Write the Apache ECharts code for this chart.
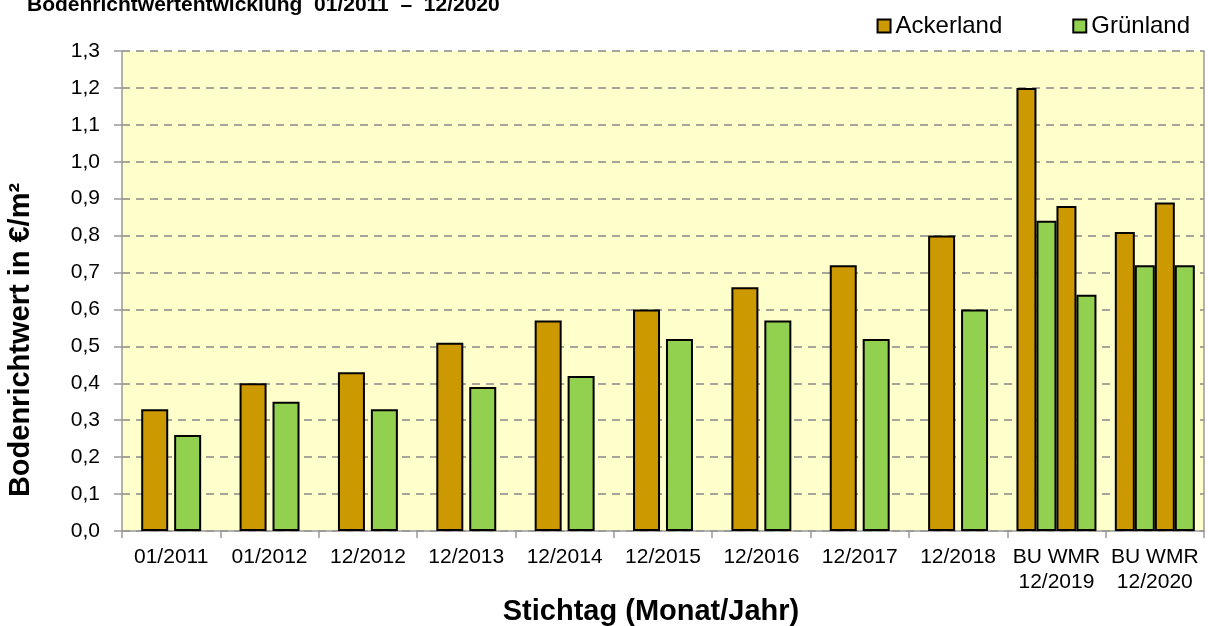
<!DOCTYPE html>
<html>
<head>
<meta charset="utf-8">
<script src="https://cdn.jsdelivr.net/npm/echarts@6/dist/echarts.min.js"></script>
<style>
  html, body { margin: 0; padding: 0; background: #fff; }
  #chart { width: 1208px; height: 626px; }
</style>
</head>
<body>
<div id="chart"></div>
<script>
// Stichtage (x-axis categories)
const categories = ['01/2011', '01/2012', '12/2012', '12/2013', '12/2014', '12/2015',
    '12/2016', '12/2017', '12/2018', 'BU WMR\n12/2019', 'BU WMR\n12/2020']

// regular Stichtage (first 9 categories)
const ackerland = [0.33, 0.40, 0.43, 0.51, 0.57, 0.60, 0.66, 0.72, 0.80]
const gruenland = [0.26, 0.35, 0.33, 0.39, 0.42, 0.52, 0.57, 0.52, 0.60]

// split by region for 12/2019 and 12/2020
const buAckerland = [1.20, 0.81]
const buGruenland = [0.84, 0.72]
const wmrAckerland = [0.88, 0.89]
const wmrGruenland = [0.64, 0.72]

const yTicks = { min: 0, max: 1.3, interval: 0.1 }

const colorAcker = '#CC9900'
const colorGruen = '#92D050'
const font = 'Arial, "Liberation Sans", sans-serif'

const nRegular = ackerland.length
const nSplit = categories.length - nRegular
const padEnd = arr => arr.concat(new Array(nSplit).fill(null))
const padStart = arr => new Array(nRegular).fill(null).concat(arr)

const border = { borderColor: '#000', borderWidth: 2 }
const axisTitle = { fontFamily: font, fontSize: 29, fontWeight: 'bold', fill: '#000' }

const chart = echarts.init(document.getElementById('chart'))

const option = {
    animation: false,
    title: {
        text: 'Bodenrichtwertentwicklung  01/2011  –  12/2020',
        left: 22,
        top: -10,
        textStyle: { fontFamily: font, fontSize: 21, fontWeight: 'bold', color: '#000' }
    },
    legend: {
        right: 13,
        top: 9,
        itemWidth: 13,
        itemHeight: 13,
        itemGap: 70,
        icon: 'rect',
        data: ['Ackerland', 'Grünland'],
        textStyle: { fontFamily: font, fontSize: 24, color: '#000' }
    },
    graphic: [
        {
            type: 'text',
            x: 21,
            y: 340,
            rotation: Math.PI / 2,
            style: { text: 'Bodenrichtwert in €/m²', align: 'center', verticalAlign: 'middle', ...axisTitle }
        },
        {
            type: 'text',
            x: 651,
            y: 612,
            style: { text: 'Stichtag (Monat/Jahr)', align: 'center', verticalAlign: 'middle', ...axisTitle }
        }
    ],
    grid: {
        left: 122,
        right: 4,
        top: 51,
        bottom: 95,
        show: true,
        backgroundColor: '#FFFFCC',
        borderWidth: 0
    },
    xAxis: [
        {
            type: 'category',
            data: categories,
            axisLine: { lineStyle: { color: '#999', width: 1.5 } },
            axisTick: { show: true, length: 7, lineStyle: { color: '#999', width: 1.5 } },
            axisLabel: {
                fontFamily: font, fontSize: 21, color: '#000', margin: 14,
                interval: 0, lineHeight: 25
            }
        },
        {
            type: 'category',
            data: categories,
            show: false
        }
    ],
    yAxis: [
        {
            type: 'value',
            min: yTicks.min,
            max: yTicks.max,
            interval: yTicks.interval,
            axisLine: { show: true, lineStyle: { color: '#999', width: 1.5 } },
            axisTick: { show: true, length: 8, lineStyle: { color: '#999', width: 1.5 } },
            axisLabel: {
                fontFamily: font, fontSize: 21, color: '#000', margin: 22,
                formatter: v => v.toFixed(1).replace('.', ',')
            },
            splitLine: { lineStyle: { color: '#888', type: [8, 6], width: 1.5 } }
        },
        {
            type: 'value',
            position: 'right',
            min: yTicks.min,
            max: yTicks.max,
            interval: yTicks.interval,
            axisLine: { show: true, lineStyle: { color: '#999', width: 1.5 } },
            axisTick: { show: false },
            axisLabel: { show: false },
            splitLine: { show: false }
        }
    ],
    series: [
        {
            name: 'Ackerland', type: 'bar', xAxisIndex: 0,
            barWidth: 27, barGap: '22%',
            itemStyle: { color: colorAcker, ...border },
            data: padEnd(ackerland)
        },
        {
            name: 'Grünland', type: 'bar', xAxisIndex: 0,
            barWidth: 27, barGap: '22%',
            itemStyle: { color: colorGruen, ...border },
            data: padEnd(gruenland)
        },
        {
            name: 'Ackerland', type: 'bar', xAxisIndex: 1,
            barWidth: 20, barGap: '0%',
            itemStyle: { color: colorAcker, ...border },
            data: padStart(buAckerland)
        },
        {
            name: 'Grünland', type: 'bar', xAxisIndex: 1,
            barWidth: 20, barGap: '0%',
            itemStyle: { color: colorGruen, ...border },
            data: padStart(buGruenland)
        },
        {
            name: 'Ackerland', type: 'bar', xAxisIndex: 1,
            barWidth: 20, barGap: '0%',
            itemStyle: { color: colorAcker, ...border },
            data: padStart(wmrAckerland)
        },
        {
            name: 'Grünland', type: 'bar', xAxisIndex: 1,
            barWidth: 20, barGap: '0%',
            itemStyle: { color: colorGruen, ...border },
            data: padStart(wmrGruenland)
        }
    ]
}

chart.setOption(option)
</script>
</body>
</html>
